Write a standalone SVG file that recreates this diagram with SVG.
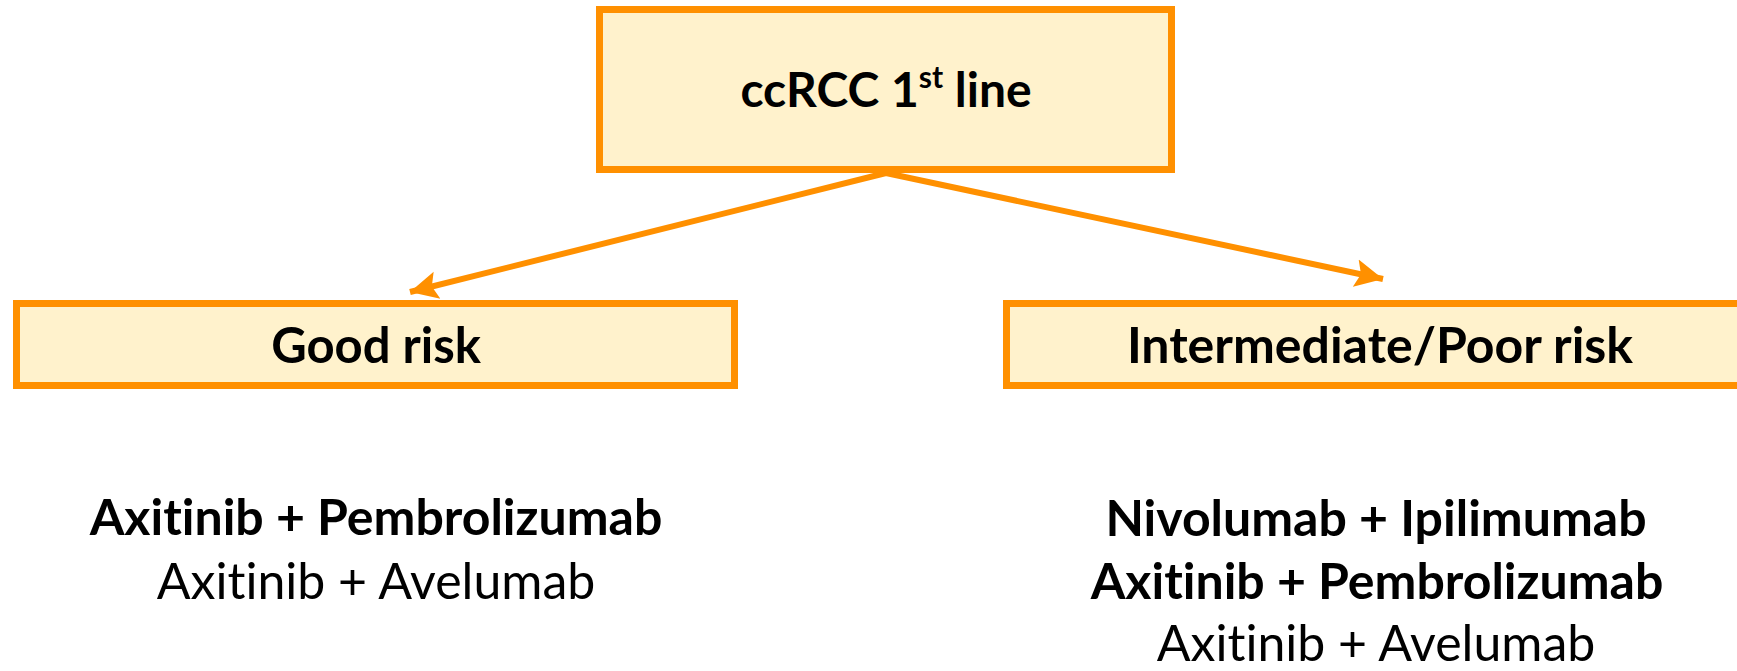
<svg xmlns="http://www.w3.org/2000/svg" width="1737" height="671" viewBox="0 0 1737 671">
<style>
.box{fill:#FFF2CC;stroke:#FF9000;stroke-width:7}
.t{font-family:Lato,"Open Sans","Liberation Sans",sans-serif;fill:#000;text-anchor:middle;font-variant-ligatures:none}
.b{font-weight:bold}
.conn{stroke:#FF9000;stroke-width:6;fill:none}
</style>
<defs>
<marker id="ah" markerUnits="userSpaceOnUse" markerWidth="30" markerHeight="30" refX="26" refY="13" orient="auto" viewBox="0 0 28 26">
<path d="M0,0 L26,13 L0,26 L5,13 z" fill="#FF9000"/>
</marker>
</defs>
<rect width="1737" height="671" fill="#fff"/>
<g id="connectors">
<line class="conn" x1="886" y1="173" x2="410" y2="292" marker-end="url(#ah)"/>
<line class="conn" x1="886" y1="173" x2="1383" y2="279" marker-end="url(#ah)"/>
</g>
<g id="node-top">
<rect class="box" x="599.5" y="9.5" width="572" height="160"/>
<text class="t b" x="886" y="107" font-size="48">ccRCC 1<tspan font-size="30" dy="-19">st</tspan><tspan dy="19"> line</tspan></text>
</g>
<g id="node-good">
<rect class="box" x="16.5" y="303.5" width="718" height="82"/>
<text class="t b" x="376" y="363" font-size="49">Good risk</text>
</g>
<g id="node-intpoor">
<rect class="box" x="1006.5" y="303.5" width="760" height="82"/>
<text class="t b" x="1380" y="363" font-size="50">Intermediate/Poor risk</text>
</g>
<g id="node-good-tx">
<text class="t b" x="376" y="535" font-size="50">Axitinib + Pembrolizumab</text>
<text class="t" x="376" y="599" font-size="50">Axitinib + Avelumab</text>
</g>
<g id="node-intpoor-tx">
<text class="t b" x="1376" y="536" font-size="50">Nivolumab + Ipilimumab</text>
<text class="t b" x="1377" y="599" font-size="50">Axitinib + Pembrolizumab</text>
<text class="t" x="1376" y="661" font-size="50">Axitinib + Avelumab</text>
</g>
</svg>
